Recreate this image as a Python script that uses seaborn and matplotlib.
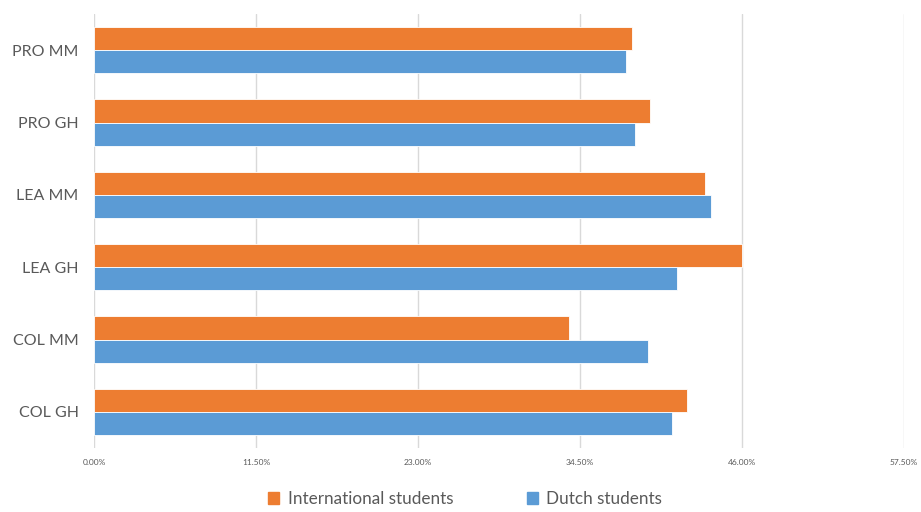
import pandas as pd
import matplotlib.pyplot as plt
import seaborn as sns
from matplotlib.ticker import FuncFormatter
from matplotlib.patches import Patch

# Data (percentages)
groups = ['PRO MM', 'PRO GH', 'LEA MM', 'LEA GH', 'COL MM', 'COL GH']
international = [38.2, 39.5, 43.4, 46.0, 33.7, 42.1]
dutch = [37.8, 38.4, 43.8, 41.4, 39.3, 41.0]
series = ['International students', 'Dutch students']
colors = ['#ED7D31', '#5B9BD5']

df = pd.DataFrame({
    'Group': groups * 2,
    'Value': international + dutch,
    'Series': [series[0]] * len(groups) + [series[1]] * len(groups),
})

sns.set_style('white')
plt.rcParams['font.family'] = ['Lato', 'DejaVu Sans']

fig = plt.figure(figsize=(9.21, 5.12), dpi=100)
ax = fig.add_axes([94 / 921, 1 - 448 / 512, 810 / 921, 434 / 512])

sns.barplot(data=df, x='Value', y='Group', hue='Series', order=groups,
            hue_order=series, palette=colors, saturation=1, width=0.64,
            orient='h', edgecolor='white', linewidth=0.6, legend=False, ax=ax)

ax.set_xlim(0, 57.5)
ax.set_xticks([0, 11.5, 23, 34.5, 46, 57.5])
ax.xaxis.set_major_formatter(FuncFormatter(lambda v, p: f'{v:.2f}%'))
ax.set_ylim(len(groups) - 0.5, -0.5)
ax.grid(axis='x', color='#D9D9D9', linewidth=1)
ax.set_axisbelow(True)
for s in ax.spines.values():
    s.set_visible(False)
ax.tick_params(axis='x', labelsize=6, colors='#595959', length=0, pad=8)
ax.tick_params(axis='y', labelsize=11.5, colors='#595959', length=0, pad=11)
ax.set_xlabel('')
ax.set_ylabel('')

handles = [Patch(color=c) for c in colors]
fig.legend(handles, series, loc='lower center', bbox_to_anchor=(0.505, -0.02),
           ncol=2, frameon=False, fontsize=12.3, labelcolor='#595959',
           handlelength=0.65, handleheight=0.65, handletextpad=0.5,
           columnspacing=4.3)

fig.savefig('out.png', dpi=100)
